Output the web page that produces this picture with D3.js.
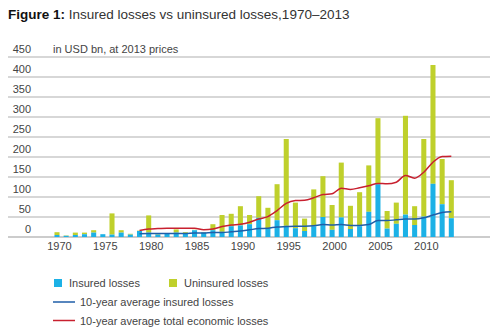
<!DOCTYPE html>
<html>
<head>
<meta charset="utf-8">
<script src="https://cdn.jsdelivr.net/npm/d3@7"></script>
<style>
  body { margin: 0; background: #fff; }
  svg { font-family: "Liberation Sans", Arial, sans-serif; }
</style>
</head>
<body>
<svg id="viz" width="500" height="333"></svg>
<script>
// values, USD bn at 2013 prices
var years = d3.range(1970, 2014);
var insured = [5, 3, 5, 7, 11, 7, 6, 11, 6, 15,
               11, 6, 10, 11, 10, 17, 11, 17, 13, 27,
               29, 32, 48, 22, 42, 28, 22, 15, 27, 50,
               18, 49, 20, 27, 63, 132, 21, 33, 56, 30,
               51, 133, 82, 47];
var uninsured = [7, 1, 6, 4, 6, 0, 53, 6, 2, 1,
                 43, 2, 0, 8, 2, 1, 1, 15, 42, 31,
                 48, 23, 54, 51, 90, 217, 64, 31, 92, 102,
                 62, 137, 58, 85, 116, 165, 44, 53, 247, 47,
                 194, 297, 113, 95];
// 10-year averages, 1979-2013
var avgYears = d3.range(1979, 2014);
var avgInsured = [8, 8.5, 8.5, 9, 9, 9, 10, 10, 11, 11,
                  13, 15, 18, 21, 22, 25, 26, 27, 27, 28,
                  31, 30, 31, 29, 29, 31, 41, 41, 43, 45,
                  45, 48, 55, 61, 63];
var avgTotal = [16, 20, 21, 22, 22, 22, 22, 18, 20, 26,
                30, 32, 37, 45, 51, 66, 84, 91, 92, 98,
                106, 108, 122, 119, 123, 128, 134, 133, 137, 154,
                147, 162, 187, 201, 202];
var yTicks = [0, 50, 100, 150, 200, 250, 300, 350, 400, 450];
var xTicks = [1970, 1975, 1980, 1985, 1990, 1995, 2000, 2005, 2010];

var svg = d3.select("#viz");

var x = d3.scaleBand()
    .domain(years)
    .range([52.4, 455.9])
    .paddingInner(0.45)
    .paddingOuter(0.225);

var y = d3.scaleLinear()
    .domain([0, 450])
    .range([237, 57]);

// title
var title = svg.append("text")
    .attr("x", 8).attr("y", 19)
    .attr("font-size", 13.5)
    .attr("fill", "#333");
title.append("tspan").attr("font-weight", "bold").attr("fill", "#111").text("Figure 1: ");
title.append("tspan").text("Insured losses vs uninsured losses,1970\u20132013");

// gridlines + y labels
svg.append("g").selectAll("line")
    .data(yTicks)
    .enter()
    .append("line")
    .attr("x1", 8).attr("x2", 490)
    .attr("y1", d => y(d)).attr("y2", d => y(d))
    .attr("stroke", d => d == 0 ? "#999" : "#b0b0b0")
    .attr("stroke-width", 1.2);

svg.append("g").selectAll("text")
    .data(yTicks)
    .enter()
    .append("text")
    .attr("x", 31)
    .attr("y", d => y(d) - 4.5)
    .attr("text-anchor", "end")
    .attr("font-size", 11)
    .attr("fill", "#444")
    .text(d => d);

svg.append("text")
    .attr("x", 53).attr("y", 52.5)
    .attr("font-size", 11)
    .attr("fill", "#444")
    .text("in USD bn, at 2013 prices");

// stacked bars
var rows = years.map((yr, i) => ({year: yr, ins: insured[i], unins: uninsured[i]}));

svg.append("g").selectAll("rect")
    .data(rows)
    .enter()
    .append("rect")
    .attr("x", d => x(d.year))
    .attr("width", x.bandwidth())
    .attr("y", d => y(d.ins + d.unins))
    .attr("height", d => y(d.ins) - y(d.ins + d.unins))
    .attr("fill", "#bfd02c");

svg.append("g").selectAll("rect")
    .data(rows)
    .enter()
    .append("rect")
    .attr("x", d => x(d.year))
    .attr("width", x.bandwidth())
    .attr("y", d => y(d.ins))
    .attr("height", d => y(0) - y(d.ins))
    .attr("fill", "#1cb1e6");

// average lines
var cx = d => x(d) + x.bandwidth() / 2;
var line = d3.line()
    .x(d => cx(d[0]))
    .y(d => y(d[1]))
    .curve(d3.curveMonotoneX);

svg.append("path")
    .datum(avgYears.map((yr, i) => [yr, avgTotal[i]]))
    .attr("d", line)
    .attr("fill", "none")
    .attr("stroke", "#c8202f")
    .attr("stroke-width", 1.5);

svg.append("path")
    .datum(avgYears.map((yr, i) => [yr, avgInsured[i]]))
    .attr("d", line)
    .attr("fill", "none")
    .attr("stroke", "#1f5ea8")
    .attr("stroke-width", 1.5);

// x labels
svg.append("g").selectAll("text")
    .data(xTicks)
    .enter()
    .append("text")
    .attr("x", d => cx(d) + 2.5)
    .attr("y", 250)
    .attr("text-anchor", "middle")
    .attr("font-size", 11)
    .attr("fill", "#444")
    .text(d => d);

// legend
var leg = svg.append("g").attr("font-size", 11).attr("fill", "#444");
leg.append("rect").attr("x", 54).attr("y", 279).attr("width", 8).attr("height", 8).attr("fill", "#1cb1e6");
leg.append("text").attr("x", 69).attr("y", 286.5).text("Insured losses");
leg.append("rect").attr("x", 169).attr("y", 279).attr("width", 8).attr("height", 8).attr("fill", "#bfd02c");
leg.append("text").attr("x", 184).attr("y", 286.5).text("Uninsured losses");
leg.append("line").attr("x1", 53).attr("x2", 75).attr("y1", 302).attr("y2", 302)
    .attr("stroke", "#1f5ea8").attr("stroke-width", 1.5);
leg.append("text").attr("x", 80).attr("y", 306).text("10-year average insured losses");
leg.append("line").attr("x1", 53).attr("x2", 75).attr("y1", 320.5).attr("y2", 320.5)
    .attr("stroke", "#c8202f").attr("stroke-width", 1.5);
leg.append("text").attr("x", 80).attr("y", 324.5).text("10-year average total economic losses");
</script>
</body>
</html>
